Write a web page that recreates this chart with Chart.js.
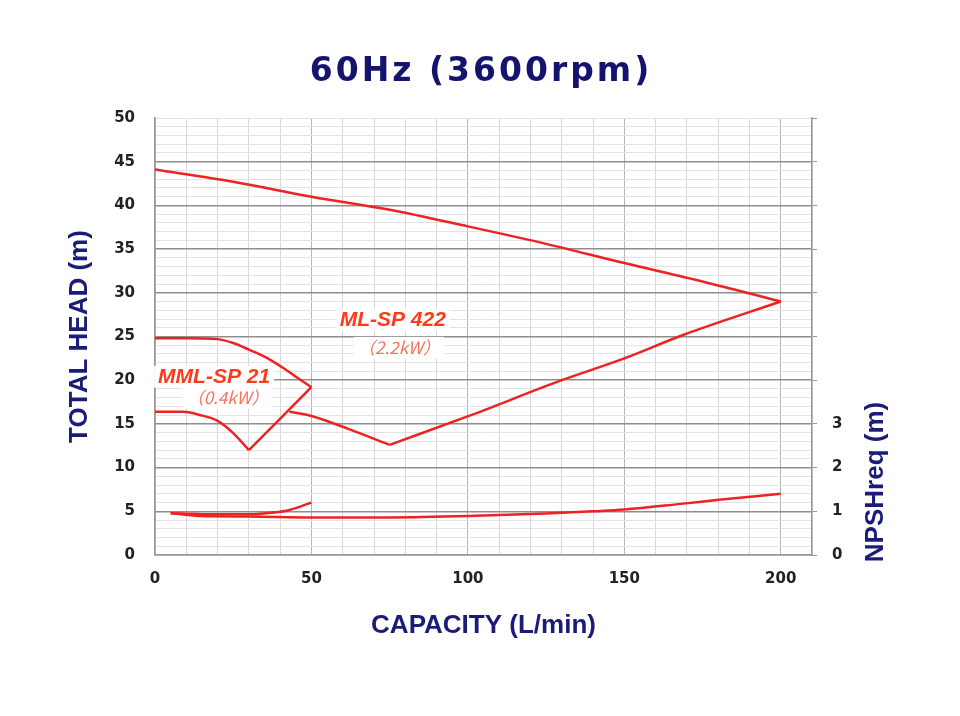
<!DOCTYPE html>
<html>
<head>
<meta charset="utf-8">
<script src="https://cdn.jsdelivr.net/npm/chart.js@4.4.1/dist/chart.umd.min.js"></script>
<style>
  html, body { margin: 0; padding: 0; background: #fff; }
  #wrap { width: 960px; height: 716px; }
</style>
</head>
<body>
<div id="wrap"><canvas id="pumpChart" width="960" height="716"></canvas></div>
<script>
const chartTitle = '60Hz (3600rpm)';

// ML-SP 422 (2.2kW)
const mlHeadQ = [0, 25, 50, 75, 100, 125, 150, 175, 200];
const mlHead = [44.1, 42.7, 41.0, 39.5, 37.6, 35.6, 33.4, 31.3, 29.0];
const mlReturnQ = [75, 101, 130, 150, 169, 200];
const mlReturn = [12.6, 16.0, 20.0, 22.5, 25.2, 29.0];
const mlTailQ = [43, 50, 62, 75];
const mlTail = [16.4, 15.9, 14.4, 12.6];
const mlNpshQ = [5, 15, 30, 50, 75, 100, 125, 140, 150, 168, 181, 200];
const mlNpsh = [0.96, 0.89, 0.88, 0.86, 0.86, 0.89, 0.95, 1.0, 1.04, 1.17, 1.27, 1.4];

// MML-SP 21 (0.4kW)
const mmlUpperQ = [0, 10, 20, 25, 30, 35, 41, 45, 50];
const mmlUpper = [24.8, 24.8, 24.7, 24.25, 23.5, 22.7, 21.4, 20.4, 19.2];
const mmlCrossQ = [30, 50];
const mmlCross = [12.0, 19.2];
const mmlLowerQ = [0, 9, 14, 20, 25, 30];
const mmlLower = [16.4, 16.4, 16.05, 15.35, 13.95, 12.0];
const mmlNpshQ = [5, 15, 30, 38, 43, 50];
const mmlNpsh = [0.955, 0.935, 0.93, 0.97, 1.03, 1.2];

// tick labels shown
const headTicks = [0, 5, 10, 15, 20, 25, 30, 35, 40, 45, 50];
const capacityTicks = [0, 50, 100, 150, 200];
const npshTicks = [0, 1, 2, 3];

const lineRed = '#ee2222';
const navy = '#1b1b78';
const pts = (qs, vs) => qs.map((q, i) => ({ x: q, y: vs[i] }));

function curve(data, axis) {
  return {
    data: data,
    yAxisID: axis,
    borderColor: lineRed,
    borderWidth: 2.5,
    pointRadius: 0,
    fill: false,
    cubicInterpolationMode: 'monotone'
  };
}

// model labels, placed in data coordinates
const modelLabels = [
  { text: 'ML-SP 422', q: 76, h: 26.9, font: 'italic bold 21px "Liberation Sans"', color: '#ff3a1a' },
  { text: '（2.2kW）', q: 78, h: 23.7, font: 'italic 17px "Noto Sans CJK JP"', color: '#f6735e' },
  { text: 'MML-SP 21', q: 18.9, h: 20.4, font: 'italic bold 21px "Liberation Sans"', color: '#ff3a1a' },
  { text: '（0.4kW）', q: 23.2, h: 18.0, font: 'italic 17px "Noto Sans CJK JP"', color: '#f6735e' }
];

const textPlugin = {
  id: 'chartText',
  beforeDatasetsDraw(chart) {
    const { ctx, scales: { x, y } } = chart;
    ctx.save();
    ctx.textAlign = 'center';
    ctx.textBaseline = 'middle';
    modelLabels.forEach(l => {
      ctx.font = l.font;
      const px = x.getPixelForValue(l.q);
      const py = y.getPixelForValue(l.h);
      const w = ctx.measureText(l.text).width;
      ctx.fillStyle = '#fff';
      ctx.fillRect(px - w / 2 - 4, py - 11, w + 8, 22);
      ctx.fillStyle = l.color;
      ctx.fillText(l.text, px, py);
    });
    ctx.restore();
  },
  afterDraw(chart) {
    const { ctx } = chart;
    ctx.save();
    ctx.fillStyle = '#14146e';
    ctx.font = 'bold 33px "DejaVu Sans"';
    ctx.letterSpacing = '3px';
    ctx.textAlign = 'center';
    ctx.textBaseline = 'middle';
    ctx.fillText(chartTitle, 481, 72);
    ctx.letterSpacing = '0px';
    ctx.translate(876, 482);
    ctx.rotate(-Math.PI / 2);
    ctx.fillStyle = navy;
    ctx.font = 'bold 26px "Liberation Sans"';
    ctx.fillText('NPSHreq (m)', 0, 0);
    ctx.restore();
  }
};

const tickFont = { family: 'DejaVu Sans', size: 15, weight: 'bold' };
const titleFont = { family: 'Liberation Sans', size: 26, weight: 'bold' };

new Chart(document.getElementById('pumpChart').getContext('2d'), {
  type: 'line',
  data: {
    datasets: [
      curve(pts(mlHeadQ, mlHead), 'y'),
      curve(pts(mlReturnQ, mlReturn), 'y'),
      curve(pts(mlTailQ, mlTail), 'y'),
      curve(pts(mmlUpperQ, mmlUpper), 'y'),
      curve(pts(mmlCrossQ, mmlCross), 'y'),
      curve(pts(mmlLowerQ, mmlLower), 'y'),
      curve(pts(mlNpshQ, mlNpsh), 'y1'),
      curve(pts(mmlNpshQ, mmlNpsh), 'y1')
    ]
  },
  options: {
    responsive: false,
    animation: false,
    layout: { padding: { top: 118, left: 0, right: 0, bottom: 0 } },
    plugins: { legend: { display: false }, tooltip: { enabled: false } },
    scales: {
      x: {
        type: 'linear',
        min: 0,
        max: 210,
        afterFit: s => { s.height = 161; },
        ticks: {
          stepSize: 10,
          autoSkip: false,
          maxRotation: 0,
          padding: 15,
          color: '#222',
          font: tickFont,
          callback: v => capacityTicks.includes(v) ? v : ''
        },
        grid: {
          drawTicks: false,
          color: c => c.tick.value % 50 === 0 ? '#b4b4b4' : '#d6d6d6',
          lineWidth: 1
        },
        border: { color: '#999', width: 1.5 },
        title: {
          display: true,
          text: 'CAPACITY (L/min)',
          color: navy,
          font: titleFont,
          padding: { top: 0, bottom: 75 }
        }
      },
      y: {
        position: 'left',
        min: 0,
        max: 50,
        afterFit: s => { s.width = 155; },
        ticks: {
          stepSize: 1,
          autoSkip: false,
          padding: 20,
          color: '#222',
          font: tickFont,
          callback: v => headTicks.includes(v) ? v : ''
        },
        grid: {
          drawTicks: false,
          color: c => (c.tick.value % 5 === 0 && c.tick.value < 50) ? '#8e8e8e' : '#e2e2e2',
          lineWidth: c => (c.tick.value % 5 === 0 && c.tick.value < 50) ? 1.6 : 1
        },
        border: { color: '#999', width: 1.5 },
        title: {
          display: true,
          text: 'TOTAL HEAD (m)',
          color: navy,
          font: titleFont,
          padding: { top: 64, bottom: 0 }
        }
      },
      y1: {
        position: 'right',
        min: 0,
        max: 10,
        afterFit: s => { s.width = 148; },
        ticks: {
          stepSize: 1,
          autoSkip: false,
          padding: 15,
          color: '#222',
          font: tickFont,
          callback: v => npshTicks.includes(v) ? v : ''
        },
        grid: {
          drawOnChartArea: false,
          drawTicks: true,
          tickLength: 5,
          color: '#9a9a9a'
        },
        border: { color: '#999', width: 1.5 }
      }
    }
  },
  plugins: [textPlugin]
});
</script>
</body>
</html>
